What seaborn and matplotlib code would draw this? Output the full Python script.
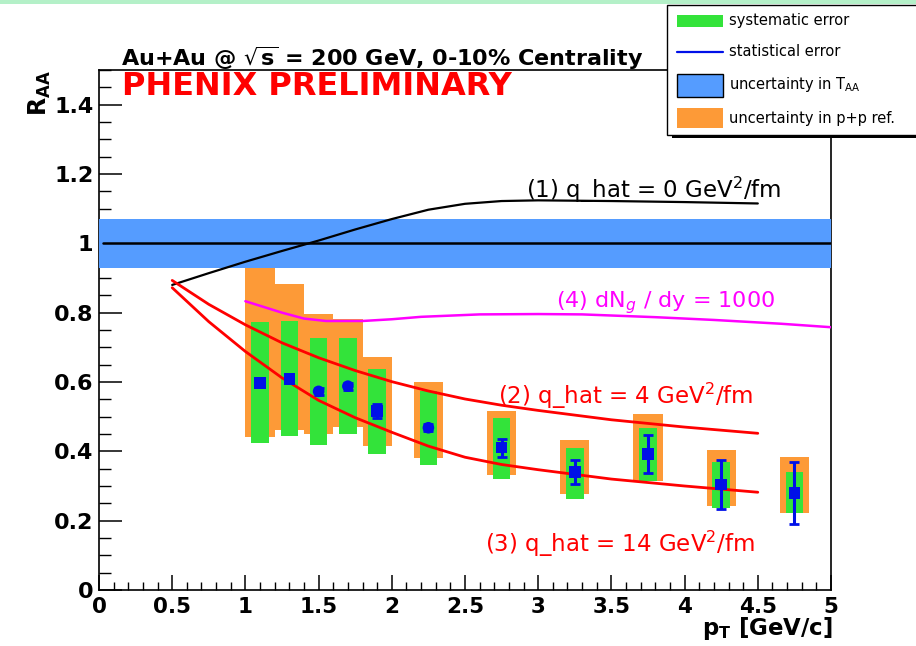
import numpy as np
import pandas as pd
import matplotlib
matplotlib.use("Agg")
import matplotlib.pyplot as plt
import seaborn as sns
from matplotlib.patches import Rectangle
from matplotlib.ticker import MultipleLocator, FuncFormatter

# ---------------- data ----------------
pt = [1.1, 1.3, 1.5, 1.7, 1.9, 2.25, 2.75, 3.25, 3.75, 4.25, 4.75]
raa = [0.598, 0.608, 0.573, 0.588, 0.516, 0.468, 0.411, 0.341, 0.392, 0.304, 0.280]
stat_err = [0.008, 0.008, 0.010, 0.010, 0.020, 0.010, 0.026, 0.035, 0.055, 0.070, 0.090]
marker_kind = ["sq", "sq", "ci", "ci", "sq", "ci", "sq", "sq", "sq", "sq", "sq"]
sys_lo = [0.425, 0.443, 0.419, 0.450, 0.392, 0.361, 0.320, 0.262, 0.313, 0.236, 0.221]
sys_hi = [0.773, 0.775, 0.726, 0.726, 0.638, 0.575, 0.496, 0.411, 0.466, 0.368, 0.339]
pp_lo = [0.440, 0.462, 0.450, 0.471, 0.416, 0.382, 0.332, 0.277, 0.313, 0.241, 0.221]
pp_hi = [0.950, 0.884, 0.795, 0.781, 0.671, 0.599, 0.517, 0.433, 0.508, 0.405, 0.384]
taa_lo, taa_hi = 0.928, 1.069

# theory curves
c1_x = [0.5, 0.75, 1.0, 1.25, 1.5, 1.75, 2.0, 2.25, 2.5, 2.75, 3.0, 3.5, 4.0, 4.5]
c1_y = [0.880, 0.914, 0.947, 0.978, 1.008, 1.040, 1.070, 1.097, 1.114, 1.122, 1.124, 1.122, 1.119, 1.115]
c2_x = [0.5, 0.75, 1.0, 1.25, 1.5, 1.75, 2.0, 2.25, 2.5, 2.75, 3.0, 3.5, 4.0, 4.5]
c2_y = [0.893, 0.824, 0.765, 0.713, 0.670, 0.633, 0.601, 0.574, 0.551, 0.533, 0.518, 0.491, 0.470, 0.452]
c3_x = [0.5, 0.75, 1.0, 1.25, 1.5, 1.75, 2.0, 2.25, 2.5, 2.75, 3.0, 3.5, 4.0, 4.5]
c3_y = [0.872, 0.774, 0.688, 0.612, 0.547, 0.497, 0.455, 0.415, 0.383, 0.362, 0.347, 0.320, 0.300, 0.282]
c4_x = [1.0, 1.25, 1.4, 1.55, 1.8, 2.0, 2.2, 2.6, 3.0, 3.3, 3.8, 4.2, 4.66, 5.0]
c4_y = [0.833, 0.800, 0.783, 0.776, 0.776, 0.781, 0.788, 0.795, 0.796, 0.795, 0.787, 0.779, 0.768, 0.758]

xticks = [0, 0.5, 1, 1.5, 2, 2.5, 3, 3.5, 4, 4.5, 5]
yticks = [0, 0.2, 0.4, 0.6, 0.8, 1.0, 1.2, 1.4]

GREEN = "#33e33a"
ORANGE = "#fd9a37"
BAND = "#559cff"
BLUE = "#0010e8"

sns.set_theme(style="white")
plt.rcParams["font.family"] = ["DejaVu Sans"]
plt.rcParams["mathtext.fontset"] = "dejavusans"
plt.rcParams["text.color"] = "black"
plt.rcParams["axes.labelcolor"] = "black"
plt.rcParams["xtick.color"] = "black"
plt.rcParams["ytick.color"] = "black"

fig = plt.figure(figsize=(9.16, 6.46), dpi=100)
ax = fig.add_axes([99/916, 1-590/646, 732/916, 520/646])
ax.set_xlim(0, 5)
ax.set_ylim(0, 1.5)

# bands / boxes
ax.axhspan(taa_lo, taa_hi, color=BAND, lw=0, zorder=3)
pp_h = [h - l for h, l in zip(pp_hi, pp_lo)]
sys_h = [h - l for h, l in zip(sys_hi, sys_lo)]
ax.bar(pt, pp_h, bottom=pp_lo, width=0.2, color=ORANGE, lw=0, zorder=1)
ax.bar(pt, sys_h, bottom=sys_lo, width=0.12, color=GREEN, lw=0, zorder=2)
ax.axhline(1.0, xmin=0.005, color="black", lw=1.8, zorder=4)

# curves
for cx, cy, col, lw in [(c1_x, c1_y, "black", 1.6), (c2_x, c2_y, "#ff0000", 2.0),
                        (c3_x, c3_y, "#ff0000", 2.0), (c4_x, c4_y, "#ff00ff", 1.8)]:
    sns.lineplot(x=cx, y=cy, color=col, lw=lw, ax=ax, sort=False, estimator=None, zorder=5)

# data points
ax.errorbar(pt, raa, yerr=stat_err, fmt="none", ecolor=BLUE, elinewidth=2.2,
            capsize=3.5, capthick=2, zorder=6)
df = pd.DataFrame({"pt": pt, "raa": raa, "kind": marker_kind})
sns.scatterplot(data=df, x="pt", y="raa", style="kind", markers={"sq": "s", "ci": "o"},
                color=BLUE, s=70, linewidth=0, ax=ax, legend=False, zorder=7)

# curve labels
ax.text(2.92, 1.154, r"(1) q_hat = 0 GeV$^2$/fm", color="black", fontsize=16.5, va="center", zorder=4)
ax.text(3.12, 0.828, r"(4) dN$_g$ / dy = 1000", color="#ff00ff", fontsize=16, va="center", zorder=4)
ax.text(2.725, 0.560, r"(2) q_hat = 4 GeV$^2$/fm", color="#ff0000", fontsize=16.5, va="center", zorder=4)
ax.text(2.64, 0.133, r"(3) q_hat = 14 GeV$^2$/fm", color="#ff0000", fontsize=16.5, va="center", zorder=4)

# axes styling
ax.set_xticks(xticks)
ax.set_yticks(yticks)
fmt = FuncFormatter(lambda v, p: f"{v:g}")
ax.xaxis.set_major_formatter(fmt)
ax.yaxis.set_major_formatter(fmt)
ax.xaxis.set_minor_locator(MultipleLocator(0.1))
ax.yaxis.set_minor_locator(MultipleLocator(0.05))
ax.tick_params(axis="both", which="both", direction="in", color="black", labelcolor="black",
               bottom=True, left=True, top=False, right=False)
ax.tick_params(axis="x", which="major", length=11, width=1.1, pad=5, labelsize=15.5)
ax.tick_params(axis="x", which="minor", length=5.5, width=1.0)
ax.tick_params(axis="y", which="major", length=16.5, width=1.1, pad=4, labelsize=16)
ax.tick_params(axis="y", which="minor", length=8.5, width=1.0)
for lab in ax.get_xticklabels() + ax.get_yticklabels():
    lab.set_fontweight("bold")
for s in ax.spines.values():
    s.set_color("black")
    s.set_linewidth(1.2)
    s.set_visible(True)
ax.set_xlabel("")
ax.set_ylabel("")

# figure texts
fig.text(121/916, 1-66/646, r"Au+Au @ $\mathbf{\sqrt{s}}$ = 200 GeV, 0-10% Centrality",
         fontsize=16, fontweight="bold", va="baseline", ha="left")
fig.text(122/916, 1-95/646, "PHENIX PRELIMINARY", fontsize=23, fontweight="bold",
         color="#ff0000", va="baseline", ha="left")
fig.text(40/916, 1-70/646, r"$\mathbf{R}_{\mathbf{AA}}$", rotation=90, fontsize=17,
         ha="center", va="top")
fig.text(833/916, 1-629/646, r"$\mathbf{p}_{\mathbf{T}}$ [GeV/c]", fontsize=16.5,
         fontweight="bold", ha="right", va="center")

# overlay for legend and top strip (pixel coordinates)
ov = fig.add_axes([0, 0, 1, 1], zorder=10)
ov.set_xlim(0, 916)
ov.set_ylim(646, 0)
ov.axis("off")
ov.patch.set_alpha(0)
ov.add_patch(Rectangle((0, 0), 916, 4, color="#b4f0c8", lw=0))
ov.add_patch(Rectangle((672, 9), 260, 129, facecolor="black", lw=0))
ov.add_patch(Rectangle((667, 5), 260, 130, facecolor="white", edgecolor="black", lw=1.0))
ov.add_patch(Rectangle((677, 15), 46, 12, facecolor=GREEN, lw=0))
ov.plot([677, 723], [52, 52], color=BLUE, lw=1.6)
ov.add_patch(Rectangle((677, 74), 46, 23, facecolor=BAND, edgecolor="black", lw=1.0))
ov.add_patch(Rectangle((677, 108), 46, 20, facecolor=ORANGE, lw=0))
leg_labels = ["systematic error", "statistical error", r"uncertainty in T$_{\mathrm{AA}}$",
              "uncertainty in p+p ref."]
for lab, yy in zip(leg_labels, [21, 52, 85, 118]):
    ov.text(729, yy, lab, fontsize=10.5, va="center", ha="left", color="black")

fig.savefig("out.png", dpi=100)
